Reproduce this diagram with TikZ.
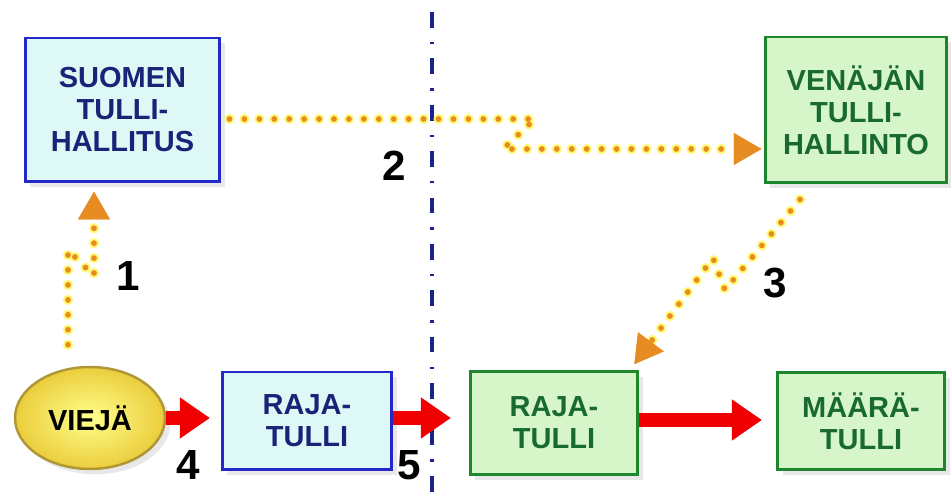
\documentclass[tikz,border=0pt]{standalone}
\usepackage{fontspec}
\setmainfont{Liberation Sans}
\usetikzlibrary{arrows.meta,calc,shadows,shapes.geometric}
\definecolor{bluedge}{RGB}{35,40,200}
\definecolor{bluefill}{RGB}{222,248,246}
\definecolor{bluetext}{RGB}{25,35,120}
\definecolor{greenedge}{RGB}{30,135,45}
\definecolor{greenfill}{RGB}{214,245,200}
\definecolor{greentext}{RGB}{25,105,50}
\definecolor{vieedge}{RGB}{175,150,55}
\definecolor{arrred}{RGB}{240,0,0}
\definecolor{dotorange}{RGB}{230,140,35}
\definecolor{bordernavy}{RGB}{25,35,140}
\tikzset{
  box/.style={draw,rectangle,line width=1.7pt,align=center,
    font=\bfseries\fontsize{16.5}{18.2}\selectfont,
    drop shadow={shadow xshift=3pt,shadow yshift=-3pt,opacity=0.18,fill=gray}},
  dots/.style={draw=dotorange,line width=3.3pt,line cap=round,
    dash pattern=on 0pt off 8.5pt,
    preaction={draw=yellow!55,line width=5.8pt,line cap=round,dash pattern=on 0pt off 8.5pt},
    -{Triangle[length=0.56cm,width=0.6cm,fill=dotorange,color=dotorange]}},
  redarr/.style={draw=arrred,line width=0.27cm,-{Triangle[length=0.6cm,width=0.78cm]}},
  num/.style={font=\bfseries\fontsize{24}{24}\selectfont}
}
\newcommand{\bluebox}[6]{\node[box,draw=bluedge,fill=bluefill,text=bluetext,minimum width=#4cm,minimum height=#5cm] (#1) at (#2,#3) {#6};}
\newcommand{\greenbox}[6]{\node[box,draw=greenedge,fill=greenfill,text=greentext,minimum width=#4cm,minimum height=#5cm] (#1) at (#2,#3) {#6};}
\newcommand{\redlink}[4]{\draw[redarr,shorten >=#3] ($(#1.east)+(0,#4)$) -- ($(#1.east -| #2.west)+(0,#4)$);}
\begin{document}
\begin{tikzpicture}[x=0.02cm,y=-0.02cm]
    \useasboundingbox (0,0) rectangle (951,492);
    % border line between the countries
    \coordinate (bordertop) at (432,12); \coordinate (borderbot) at (432,492);
    \draw[bordernavy,line width=1.9pt,dash pattern=on 9pt off 8pt on 1.4pt off 8pt] (bordertop) -- (borderbot);
    \bluebox{suomen}{122.5}{110}{3.9}{2.88}{SUOMEN\\TULLI-\\HALLITUS}
    \greenbox{venajan}{856}{110}{3.64}{2.92}{VENÄJÄN\\TULLI-\\HALLINTO}
    \node[ellipse,draw=vieedge,line width=1.4pt,inner color=yellow!45!white,outer color={rgb,255:red,235;green,205;blue,60},
      minimum width=3cm,minimum height=2.04cm,font=\bfseries\fontsize{16.5}{18.2}\selectfont,
      drop shadow={shadow xshift=3pt,shadow yshift=-3pt,opacity=0.18,fill=gray}] (vieja) at (90,418) {VIEJÄ};
    \bluebox{rajaL}{307}{421}{3.4}{1.96}{RAJA-\\TULLI}
    \greenbox{rajaR}{554}{423}{3.36}{2.06}{RAJA-\\TULLI}
    \greenbox{maara}{861}{421}{3.34}{1.94}{MÄÄRÄ-\\TULLI}
    % goods
    \redlink{vieja}{rajaL}{6pt}{0}\redlink{rajaL}{rajaR}{10pt}{-3}\redlink{rajaR}{maara}{8pt}{-3}
    % information
    \draw[dots,shorten <=12pt,shorten >=4.5pt] ($(vieja.north)+(-22,0)$) -- (68,250) -- (94,276) -- (94,0 |- suomen.south);
    \draw[dots,shorten >=1pt] ($(suomen.east)+(8,9)$) -- (535,119) -- (503,149) -- (venajan.west |- 0,149);
    \draw[dots,shorten >=4pt] ($(venajan.south)+(-56,15)$) -- (725,290) -- (713,258) -- (630,0 |- rajaR.north);
    \node[num] (n1) at (128,276) {1}; \node[num] (n2) at (394,166) {2};
    \node[num] (n3) at (775,283) {3}; \node[num] (n4) at (188,465) {4};
    \node[num] (n5) at (409,465) {5};
\end{tikzpicture}
\end{document}
